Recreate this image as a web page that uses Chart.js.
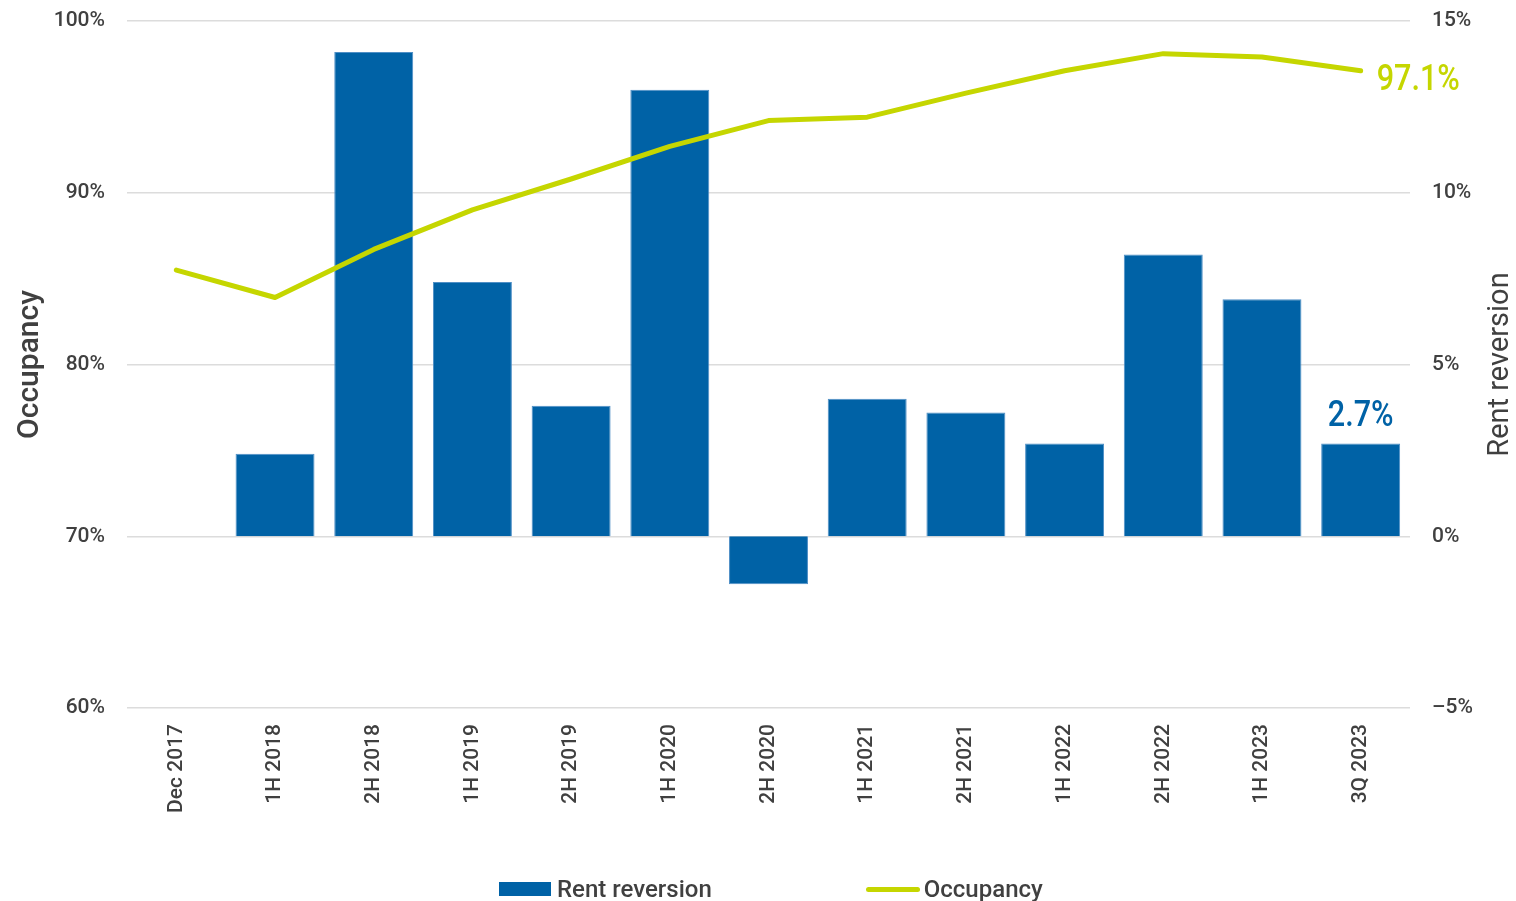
<!DOCTYPE html>
<html>
<head>
<meta charset="utf-8">
<script src="https://cdn.jsdelivr.net/npm/chart.js@4/dist/chart.umd.min.js"></script>
<style>
  html, body { margin: 0; padding: 0; background: #ffffff; }
  #wrap { position: relative; width: 1516px; height: 901px; }
  #legend { position: absolute; left: 499px; top: 874px; height: 30px; display: flex; align-items: center;
            font-family: Roboto, 'DejaVu Sans', sans-serif; font-size: 24px; font-weight: 500; color: #404040; white-space: nowrap; }
  .sw-bar { width: 52px; height: 14px; background: #0062a6; margin-right: 6px; }
  .sw-line { width: 54px; height: 5px; border-radius: 3px; background: #c5d600; margin-left: 154px; margin-right: 4px; }
</style>
</head>
<body>
<div id="wrap">
  <canvas id="c"></canvas>
  <div id="legend"><span class="sw-bar"></span><span>Rent reversion</span><span class="sw-line"></span><span>Occupancy</span></div>
</div>
<script>
const categories = ['Dec 2017', '1H 2018', '2H 2018', '1H 2019', '2H 2019', '1H 2020', '2H 2020',
                    '1H 2021', '2H 2021', '1H 2022', '2H 2022', '1H 2023', '3Q 2023'];
const rentReversion = [null, 2.4, 14.1, 7.4, 3.8, 13.0, -1.4, 4.0, 3.6, 2.7, 8.2, 6.9, 2.7];
const occupancy = [85.5, 83.9, 86.7, 89.0, 90.8, 92.7, 94.2, 94.4, 95.8, 97.1, 98.1, 97.9, 97.1];
const occupancyTicks = [60, 70, 80, 90, 100];
const reversionTicks = [-5, 0, 5, 10, 15];

const BLUE = '#0062a6';
const GREEN = '#c5d600';
const TEXT = '#404040';
const FONT = 'Roboto';

const endLabels = {
  id: 'endLabels',
  afterDatasetsDraw(chart) {
    const ctx = chart.ctx;
    const barMeta = chart.getDatasetMeta(0);
    const lineMeta = chart.getDatasetMeta(1);
    const li = occupancy.length - 1;
    const bi = rentReversion.length - 1;
    const sx = 0.85;
    ctx.save();
    ctx.font = '500 36px ' + FONT;
    const p = lineMeta.data[li];
    ctx.save();
    ctx.translate(p.x + 16, p.y + 10);
    ctx.scale(sx, 1);
    ctx.fillStyle = GREEN;
    ctx.textAlign = 'left';
    ctx.textBaseline = 'middle';
    ctx.fillText(occupancy[li].toFixed(1) + '%', 0, 0);
    ctx.restore();
    const b = barMeta.data[bi];
    ctx.save();
    ctx.translate(b.x, b.y - 18);
    ctx.scale(sx, 1);
    ctx.fillStyle = BLUE;
    ctx.textAlign = 'center';
    ctx.textBaseline = 'alphabetic';
    ctx.fillText(rentReversion[bi].toFixed(1) + '%', 0, 0);
    ctx.restore();
    const r = chart.scales.y1;
    const ca = chart.chartArea;
    ctx.font = '29px ' + FONT;
    ctx.fillStyle = TEXT;
    ctx.translate(r.right - 15, (ca.top + ca.bottom) / 2);
    ctx.rotate(-Math.PI / 2);
    ctx.textAlign = 'center';
    ctx.textBaseline = 'middle';
    ctx.fillText('Rent reversion', 0, 0);
    ctx.restore();
  }
};

new Chart(document.getElementById('c'), {
  data: {
    labels: categories,
    datasets: [
      {
        type: 'bar',
        label: 'Rent reversion',
        data: rentReversion,
        yAxisID: 'y1',
        backgroundColor: BLUE,
        borderColor: '#4f8fc6',
        borderWidth: 1,
        categoryPercentage: 1.0,
        barPercentage: 0.8,
        order: 2
      },
      {
        type: 'line',
        label: 'Occupancy',
        data: occupancy,
        yAxisID: 'y',
        borderColor: GREEN,
        backgroundColor: GREEN,
        borderWidth: 5,
        pointRadius: 0,
        tension: 0,
        borderCapStyle: 'round',
        borderJoinStyle: 'round',
        order: 1
      }
    ]
  },
  options: {
    responsive: true,
    maintainAspectRatio: false,
    animation: false,
    layout: { padding: { top: 21, left: 0, right: 0, bottom: 0 } },
    plugins: { legend: { display: false }, tooltip: { enabled: false } },
    scales: {
      x: {
        grid: { display: false, drawTicks: false },
        border: { display: false },
        ticks: { autoSkip: false, minRotation: 90, maxRotation: 90, padding: 16, color: TEXT,
                 font: { family: FONT, size: 21, weight: '500' } },
        afterFit(s) { s.height = 193; }
      },
      y: {
        position: 'left',
        min: 60, max: 100,
        afterBuildTicks(s) { s.ticks = occupancyTicks.map(v => ({ value: v })); },
        grid: { color: '#dcdcdc', lineWidth: 1.5, drawTicks: false },
        border: { display: false },
        ticks: { padding: 22, color: TEXT, font: { family: FONT, size: 21, weight: '500' }, callback: v => v + '%' },
        title: { display: true, text: 'Occupancy', color: TEXT, font: { family: FONT, size: 30, weight: '500' },
                 padding: { top: 12, bottom: 0 } },
        afterFit(s) { s.width = 127; s.paddingTop = 0; s.paddingBottom = 0; }
      },
      y1: {
        position: 'right',
        min: -5, max: 15,
        afterBuildTicks(s) { s.ticks = reversionTicks.map(v => ({ value: v })); },
        grid: { display: false, drawTicks: false },
        border: { display: false },
        ticks: { padding: 22, color: TEXT, font: { family: FONT, size: 21, weight: '500' },
                 callback: v => (v < 0 ? '\u2013' + Math.abs(v) : v) + '%' },
        afterFit(s) { s.width = 106; s.paddingTop = 0; s.paddingBottom = 0; }
      }
    }
  },
  plugins: [endLabels]
});
</script>
</body>
</html>
